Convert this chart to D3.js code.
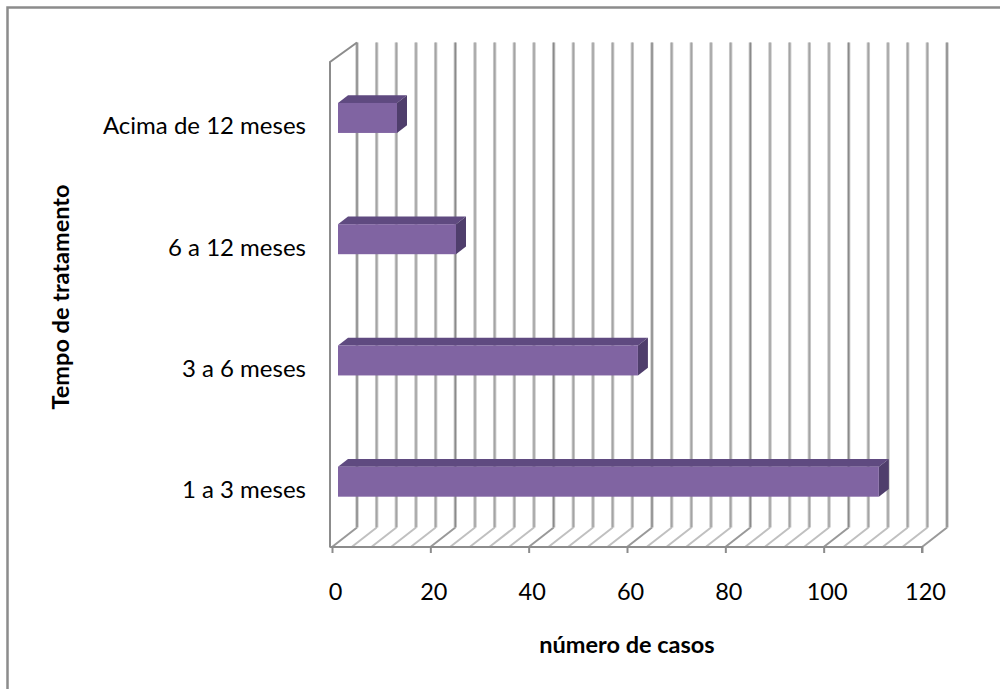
<!DOCTYPE html>
<html>
<head>
<meta charset="utf-8">
<script src="https://cdn.jsdelivr.net/npm/d3@7"></script>
<style>
  html, body { margin: 0; padding: 0; background: #fff; }
  svg { display: block; }
  text { font-family: Lato, "Open Sans", sans-serif; fill: #000; }
</style>
</head>
<body>
<svg id="chart" width="1000" height="689"></svg>
<script>
// Treatment duration categories (bottom to top) and number of cases
const categories = ["1 a 3 meses", "3 a 6 meses", "6 a 12 meses", "Acima de 12 meses"];
const cases = [110, 61, 24, 12];
const xTicks = [0, 20, 40, 60, 80, 100, 120];
const gridStep = 4;
const xTitle = "número de casos";
const yTitle = "Tempo de tratamento";

const svg = d3.select("#chart");

// Front plane of the 3D box and depth offset to the back wall
const front = { left: 332, right: 922, top: 62, bottom: 547 };
const DX = 25, DY = -19.5;

const x = d3.scaleLinear().domain([0, 120]).range([front.left, front.right]);
const y = d3.scaleBand().domain(categories).range([front.bottom, front.top]).paddingInner(0);

// Outer chart border (only top and left edges fall inside the page)
svg.append("rect")
  .attr("x", 7.5).attr("y", 7.5)
  .attr("width", 1100).attr("height", 800)
  .attr("fill", "none")
  .attr("stroke", "#8c8c8c")
  .attr("stroke-width", 2.5);

const gridVals = d3.range(0, 120 + 0.001, gridStep);
const isMajor = v => Math.abs(v % 20) < 1e-6;

// Floor lines running from the front edge to the back wall
const floor = svg.append("g");
floor.selectAll("line")
  .data(gridVals)
  .join("line")
  .attr("x1", d => x(d)).attr("y1", front.bottom)
  .attr("x2", d => x(d) + DX).attr("y2", front.bottom + DY)
  .attr("stroke", d => isMajor(d) ? "#999" : "#c0c0c0")
  .attr("stroke-width", 2);

// Back wall gridlines: soft wide stroke with a darker core
const wall = svg.append("g");
wall.selectAll("line.halo")
  .data(gridVals)
  .join("line")
  .attr("class", "halo")
  .attr("x1", d => x(d) + DX).attr("y1", front.top + DY)
  .attr("x2", d => x(d) + DX).attr("y2", front.bottom + DY)
  .attr("stroke", "#c8c8c8")
  .attr("stroke-width", 3.4);
wall.selectAll("line.core")
  .data(gridVals)
  .join("line")
  .attr("class", "core")
  .attr("x1", d => x(d) + DX).attr("y1", front.top + DY)
  .attr("x2", d => x(d) + DX).attr("y2", front.bottom + DY)
  .attr("stroke", d => isMajor(d) ? "#8a8a8a" : "#a4a4a4")
  .attr("stroke-width", 1.5);

// Left wall outline
const frame = svg.append("g").attr("fill", "none").attr("stroke", "#8c8c8c").attr("stroke-width", 2);
frame.append("path")
  .attr("d", `M${x(0) - 2},${front.bottom} L${x(0) - 2},${front.top} L${x(0) + DX},${front.top + DY}`);

// Front value axis along the floor edge
const axis = d3.axisBottom(x).tickValues(xTicks).tickSize(6).tickFormat(d3.format("d"));
const gAxis = svg.append("g")
  .attr("transform", `translate(0,${front.bottom})`)
  .call(axis);
gAxis.select(".domain").attr("stroke", "#8c8c8c").attr("stroke-width", 2)
  .attr("d", `M${x(0) - 2},0.5V0H${front.right}V6`);
gAxis.selectAll(".tick line").attr("stroke", "#8c8c8c").attr("stroke-width", 2);
gAxis.selectAll(".tick text")
  .attr("y", 53)
  .attr("dx", 3)
  .attr("dy", 0)
  .style("font-family", "Lato, sans-serif")
  .style("font-size", "23.5px")
  .attr("fill", "#000");

// 3D bars, placed part-way into the depth of the box
const depthFront = 0.24, depthBack = 0.64;
const barH = 30;
const bx0 = DX * depthFront, by0 = DY * depthFront;
const bdx = DX * (depthBack - depthFront), bdy = DY * (depthBack - depthFront);

const bars = svg.append("g").selectAll("g")
  .data(categories.map((c, i) => ({ c, v: cases[i] })))
  .join("g");

const barTop = d => y(d.c) + y.bandwidth() / 2 + by0 - barH / 2;
const barLeft = () => x(0) + bx0;
const barRight = d => x(d.v) + bx0;

// top face
bars.append("path")
  .attr("fill", "#5f4a80")
  .attr("d", d => {
    const t = barTop(d), l = barLeft(), r = barRight(d);
    return `M${l},${t} L${l + bdx},${t + bdy} L${r + bdx},${t + bdy} L${r},${t} Z`;
  });
// end face
bars.append("path")
  .attr("fill", "#4f3e6c")
  .attr("d", d => {
    const t = barTop(d), r = barRight(d);
    return `M${r},${t} L${r + bdx},${t + bdy} L${r + bdx},${t + bdy + barH} L${r},${t + barH} Z`;
  });
// front face
bars.append("rect")
  .attr("fill", "#8064a2")
  .attr("x", barLeft)
  .attr("y", barTop)
  .attr("width", d => barRight(d) - barLeft())
  .attr("height", barH);

// Category labels
svg.append("g").selectAll("text")
  .data(categories)
  .join("text")
  .attr("x", 306)
  .attr("y", d => y(d) + y.bandwidth() / 2 + 3)
  .attr("dy", "0.36em")
  .attr("text-anchor", "end")
  .style("font-size", "24px")
  .text(d => d);

// Axis titles
svg.append("text")
  .attr("x", (front.left + front.right) / 2)
  .attr("y", 653)
  .attr("text-anchor", "middle")
  .style("font-size", "23.5px")
  .style("font-weight", "bold")
  .text(xTitle);

svg.append("text")
  .attr("transform", "translate(69,297) rotate(-90)")
  .attr("text-anchor", "middle")
  .style("font-size", "23.5px")
  .style("font-weight", "bold")
  .text(yTitle);
</script>
</body>
</html>
